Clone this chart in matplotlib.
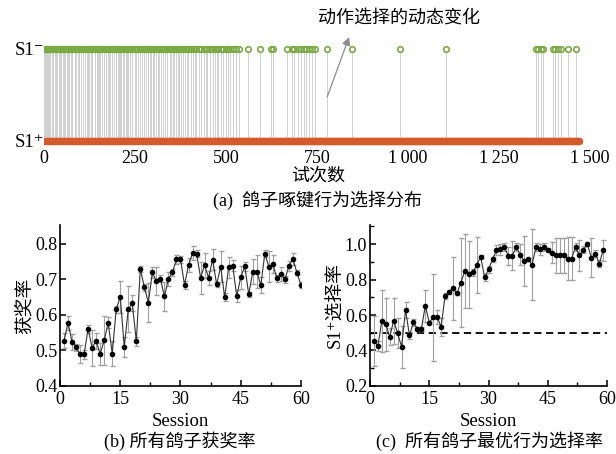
#!/usr/bin/env python
#coding: utf-8

import numpy as np
import matplotlib
matplotlib.use('Agg')
import matplotlib.pyplot as plt
from matplotlib.ticker import MultipleLocator

plt.rcParams['font.family'] = ['Liberation Serif', 'DejaVu Serif', 'Noto Sans CJK SC']
plt.rcParams['font.size'] = 13

# ---- (a) trial-by-trial choices ----
n_trials = 1470
# trials where the pigeon pecked S1- (all other trials are S1+)
s1minus_trials = [
    1, 2, 3, 6, 7, 12, 15, 16, 17, 23, 24, 29, 33, 34, 35, 42, 43, 47,
    51, 55, 56, 57, 62, 67, 68, 74, 76, 77, 84, 85, 89, 94, 95, 97,
    102, 103, 108, 112, 113, 119, 120, 124, 130, 132, 133, 140, 141, 146, 148,
    151, 153, 158, 159, 165, 166, 171, 177, 179, 180, 187, 188, 193, 198, 199,
    204, 205, 210, 211, 218, 219, 224, 229, 230, 235, 236, 241, 242, 249,
    252, 253, 258, 263, 264, 270, 275, 276, 281, 286, 287, 292, 293, 299,
    302, 303, 309, 314, 316, 321, 326, 327, 333, 338, 339, 345, 349,
    353, 356, 357, 363, 369, 370, 376, 381, 383, 388, 394, 396,
    403, 404, 410, 416, 418, 425, 431, 432, 439, 444, 449,
    455, 456, 463, 470, 474, 478, 485, 492, 499, 505, 512, 520, 527, 536,
    561, 592, 624, 630, 667, 680, 688, 697, 706, 713, 720, 728, 736, 743,
    778, 847, 978, 1103, 1352, 1358, 1364, 1371, 1397, 1404, 1411, 1419, 1440, 1462,
]
xticks_a = [0, 250, 500, 750, 1000, 1250, 1500]
xticklabels_a = ['0', '250', '500', '750', '1\u2009000', '1\u2009250', '1\u2009500']

# ---- (b) reward rate per session ----
sessions_b = list(range(1, 61))
reward_mean = [0.527, 0.578, 0.524, 0.509, 0.489, 0.489, 0.561, 0.507, 0.527, 0.490,
               0.528, 0.578, 0.491, 0.616, 0.651, 0.510, 0.616, 0.633, 0.526, 0.730,
               0.678, 0.635, 0.720, 0.695, 0.702, 0.652, 0.702, 0.720, 0.757, 0.757,
               0.685, 0.740, 0.774, 0.773, 0.705, 0.740, 0.705, 0.756, 0.686, 0.736,
               0.650, 0.734, 0.739, 0.653, 0.706, 0.737, 0.658, 0.722, 0.722, 0.684,
               0.773, 0.736, 0.744, 0.703, 0.715, 0.700, 0.739, 0.757, 0.719, 0.684]
reward_err = [0.021, 0.020, 0.022, 0.010, 0.025, 0.012, 0.011, 0.050, 0.022, 0.030,
              0.070, 0.015, 0.035, 0.010, 0.045, 0.028, 0.065, 0.022, 0.013, 0.008,
              0.010, 0.054, 0.015, 0.040, 0.010, 0.040, 0.020, 0.010, 0.012, 0.010,
              0.012, 0.020, 0.020, 0.010, 0.045, 0.036, 0.020, 0.030, 0.008, 0.043,
              0.012, 0.030, 0.015, 0.016, 0.033, 0.012, 0.007, 0.035, 0.047, 0.023,
              0.010, 0.043, 0.025, 0.010, 0.020, 0.010, 0.014, 0.017, 0.007, 0.008]

# ---- (c) S1+ choice rate per session ----
sessions_c = list(range(1, 60))
choice_mean = [0.455, 0.425, 0.566, 0.547, 0.478, 0.568, 0.497, 0.420, 0.628, 0.485,
               0.559, 0.521, 0.521, 0.653, 0.557, 0.587, 0.589, 0.534, 0.707, 0.731,
               0.750, 0.722, 0.782, 0.850, 0.829, 0.840, 0.882, 0.929, 0.814, 0.858,
               0.915, 0.966, 0.970, 0.984, 0.935, 0.935, 0.984, 0.940, 0.906, 0.914,
               0.884, 0.984, 0.970, 0.984, 0.966, 0.952, 0.936, 0.936, 0.936, 0.918,
               0.918, 0.984, 0.936, 0.969, 1.000, 0.922, 0.947, 0.889, 0.966]
choice_err = [0.140, 0.030, 0.175, 0.150, 0.050, 0.130, 0.085, 0.120, 0.045, 0.020,
              0.020, 0.010, 0.010, 0.090, 0.010, 0.245, 0.040, 0.050, 0.015, 0.010,
              0.180, 0.010, 0.250, 0.210, 0.190, 0.020, 0.160, 0.010, 0.020, 0.020,
              0.015, 0.030, 0.030, 0.020, 0.050, 0.080, 0.020, 0.060, 0.140, 0.010,
              0.200, 0.020, 0.030, 0.020, 0.010, 0.060, 0.100, 0.100, 0.100, 0.120,
              0.120, 0.020, 0.090, 0.020, 0.010, 0.110, 0.020, 0.020, 0.060]

green = '#7BAA45'
red = '#D45A2C'

fig = plt.figure(figsize=(6.16, 4.54), dpi=100)

# panel a
ax1 = fig.add_axes([0.0714, 0.670, 0.8866, 0.242])
trials = np.arange(1, n_trials + 1)
minus = np.array(s1minus_trials)
plus = np.setdiff1d(trials, minus)
ax1.vlines(minus, 0, 0.97, color='#D0D0D0', lw=0.7, zorder=1, snap=True)
ax1.plot(plus, np.zeros(len(plus)), 'o', ms=5.2, color=red, mec='none', zorder=3)
ax1.plot(minus, np.ones(len(minus)), 'o', ms=4.0, mfc='none', mec=green, mew=1.2, zorder=3)
ax1.set_xlim(0, 1500)
ax1.set_ylim(-0.098, 1.098)
ax1.set_yticks([0, 1])
ax1.set_yticklabels(['S1\u207a', 'S1\u207b'], fontsize=13.5)
ax1.set_xticks(xticks_a)
ax1.set_xticklabels(xticklabels_a, fontsize=13)
ax1.tick_params(length=0, pad=0)
for s in ax1.spines.values():
    s.set_visible(False)
ax1.annotate('', xy=(838, 1.13), xytext=(778, 0.48),
             arrowprops=dict(arrowstyle='-|>', color='#8C8C8C', lw=0.9,
                             mutation_scale=12, shrinkA=0, shrinkB=0),
             annotation_clip=False)
ax1.text(975, 1.337, '动作选择的动态变化', ha='center', va='center', fontsize=13)
fig.text(0.516, 0.612, '试次数', ha='center', va='center', fontsize=13)
fig.text(0.516, 0.559, '(a)  鸽子啄键行为选择分布', ha='center', va='center', fontsize=13)


def style_panel(ax):
    ax.spines['top'].set_visible(False)
    ax.spines['right'].set_visible(False)
    ax.spines['left'].set_linewidth(1.2)
    ax.spines['bottom'].set_linewidth(1.2)
    ax.set_xlim(0, 60)
    ax.set_xticks([0, 15, 30, 45, 60])
    ax.xaxis.set_minor_locator(MultipleLocator(7.5))
    ax.tick_params(direction='in', length=4.5, width=1.1, labelsize=13, pad=2)
    ax.tick_params(axis='x', pad=4)
    ax.tick_params(which='minor', direction='in', length=3, width=1.0)
    ax.set_xlabel('Session', fontsize=13.5, labelpad=3)


# panel b
ax2 = fig.add_axes([0.0974, 0.150, 0.3912, 0.354])
ax2.errorbar(sessions_b, reward_mean, yerr=reward_err, fmt='-o', color='#333333', lw=0.8,
             ms=3.0, mfc='black', mec='black', ecolor='#A0A0A0', elinewidth=0.8, capsize=1.8)
ax2.set_ylim(0.4, 0.853)
ax2.set_yticks([0.4, 0.5, 0.6, 0.7, 0.8])
style_panel(ax2)
ax2.set_ylabel('获奖率', fontsize=13.5, labelpad=1)
fig.text(0.292, 0.028, '(b) 所有鸽子获奖率', ha='center', va='center', fontsize=13)

# panel c
ax3 = fig.add_axes([0.6006, 0.150, 0.3850, 0.354])
ax3.axhline(0.5, color='black', lw=1.3, ls=(0, (4, 2.5)), zorder=0)
ax3.errorbar(sessions_c, choice_mean, yerr=choice_err, fmt='-o', color='#333333', lw=0.8,
             ms=3.0, mfc='black', mec='black', ecolor='#A0A0A0', elinewidth=0.8, capsize=1.8)
ax3.set_ylim(0.2, 1.107)
ax3.set_yticks([0.2, 0.4, 0.6, 0.8, 1.0])
ax3.yaxis.set_minor_locator(MultipleLocator(0.1))
style_panel(ax3)
ax3.set_ylabel('S1\u207a选择率', fontsize=13.5, labelpad=1)
fig.text(0.795, 0.028, '(c)  所有鸽子最优行为选择率', ha='center', va='center', fontsize=13)

plt.savefig('out.png', dpi=100)
